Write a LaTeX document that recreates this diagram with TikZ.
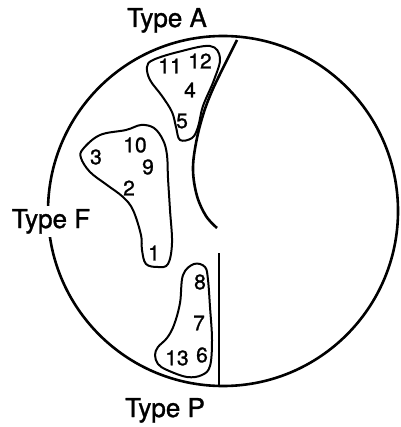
\documentclass[tikz,border=0pt]{standalone}
\usepackage{fontspec}
\setmainfont{TeX Gyre Heros}[FakeBold=1.2]
\begin{document}
\begin{tikzpicture}[x=1pt,y=-1pt,
  title/.style={font=\fontsize{26}{26}\selectfont, inner sep=0pt, anchor=base},
  num/.style={font=\fontsize{21}{21}\selectfont, inner sep=0pt},
  blob/.style={line width=2pt, line join=round},
  frame/.style={line width=2.6pt}]
\useasboundingbox (0,0) rectangle (400,427);
% circle
\draw[frame] (223,211) circle[radius=175];
% Type A boundary curve
\draw[frame] plot[smooth, tension=0.6] coordinates {(237,40) (225,64) (212,91) (203,115) (196,143) (193,170) (197,196) (206,216) (217,228)};
% Type P boundary line
\coordinate (ptop) at (219,253);
\coordinate (pbot) at (219,385);
\draw[frame] (ptop) -- (pbot);
% blob A
\draw[blob] plot[smooth cycle, tension=0.6] coordinates {(153,60) (178,52) (210,46) (220,58) (214,80) (203,106) (198,127) (192,138) (180,140) (176,127) (172,112) (162,96) (150,80) (147,67)};
% blob F
\draw[blob] plot[smooth cycle, tension=0.6] coordinates {(83,149) (100,135) (126,130) (141,125) (154,128) (163,140) (167,155) (168,178) (170,210) (172,243) (168,264) (158,267) (146,264) (142,250) (141,235) (133,210) (123,197) (107,185) (90,172) (81,158)};
% blob P
\draw[blob] plot[smooth cycle, tension=0.6] coordinates {(194,264) (205,267) (208,280) (210,307) (212,340) (210,366) (202,375) (187,377) (167,370) (158,364) (155,355) (158,347) (167,338) (174,325) (180,303) (183,275)};
% labels
\node[num] (n11) at (170,66) {11};
\node[num] (n12) at (200,61) {12};
\node[num] (n4) at (190,90) {4};
\node[num] (n5) at (182,121) {5};
\node[num] (n3) at (96,157) {3};
\node[num] (n10) at (135,145) {10};
\node[num] (n9) at (148,167) {9};
\node[num] (n2) at (129,188) {2};
\node[num] (n1) at (154,253) {1};
\node[num] (n8) at (200,282) {8};
\node[num] (n7) at (199,323) {7};
\node[num] (n13) at (177,358) {13};
\node[num] (n6) at (202,355) {6};
% titles
\node[title] (ta) at (167,27) {Type A};
\node[title, fill=white, inner sep=3pt] (tf) at (51,228) {Type F};
\node[title] (tp) at (165,417) {Type P};
\end{tikzpicture}
\end{document}
